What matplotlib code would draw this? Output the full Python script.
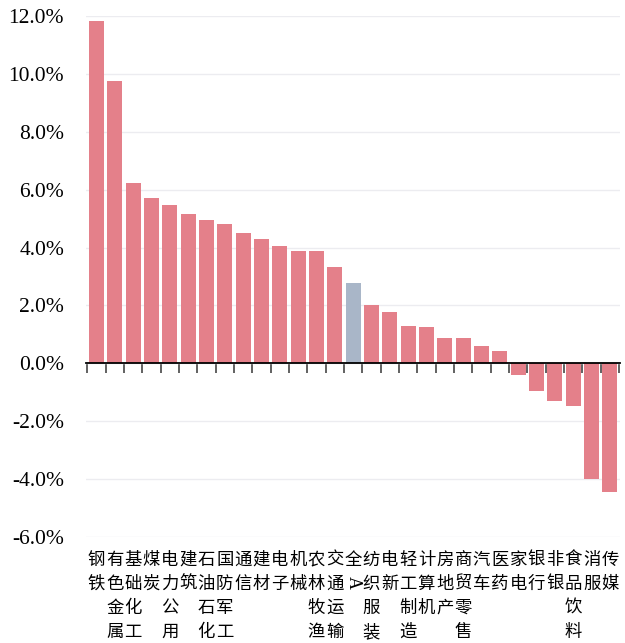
import numpy as np
import matplotlib.pyplot as plt
import matplotlib.transforms as mtransforms

plt.rcParams['font.family'] = ['Noto Sans CJK SC', 'DejaVu Sans']

industries = ["钢铁", "有色金属", "基础化工", "煤炭", "电力公用", "建筑", "石油石化",
              "国防军工", "通信", "建材", "电子", "机械", "农林牧渔", "交通运输", "全A",
              "纺织服装", "电新", "轻工制造", "计算机", "房地产", "商贸零售", "汽车",
              "医药", "家电", "银行", "非银", "食品饮料", "消服", "传媒"]
returns = [11.82, 9.76, 6.22, 5.71, 5.46, 5.15, 4.95, 4.83, 4.52, 4.28, 4.04, 3.87,
           3.87, 3.32, 2.76, 2.03, 1.76, 1.28, 1.27, 0.86, 0.86, 0.59, 0.41, -0.42,
           -0.97, -1.29, -1.46, -4.01, -4.44]
highlight = "全A"
yticks = [-6, -4, -2, 0, 2, 4, 6, 8, 10, 12]

red = "#E4808A"
blue = "#A9B6C8"

fig = plt.figure(figsize=(6.25, 6.43), dpi=100)
ax = fig.add_axes([0.138, 0.165, 0.854, 0.81])

x = np.arange(len(industries))
colors = [blue if n == highlight else red for n in industries]
ax.bar(x, returns, width=0.82, color=colors, zorder=3)

ax.set_xlim(-0.55, len(industries) - 0.45)
ax.set_ylim(-6, 12)
ax.set_yticks(yticks)
ax.set_yticklabels([f"{v:.1f}%" for v in yticks], family="Liberation Serif", fontsize=15.5)
ax.tick_params(axis='y', length=0, pad=16)
ax.grid(axis='y', color="#ECECF0", lw=1, zorder=0)

for s in ['top', 'right', 'left']:
    ax.spines[s].set_visible(False)
ax.spines['bottom'].set_position(('data', 0))
ax.spines['bottom'].set_color("black")
ax.spines['bottom'].set_linewidth(1.3)
ax.spines['bottom'].set_zorder(4)

ax.set_xticks(x)
ax.set_xticklabels([])
ax.tick_params(axis='x', which='major', length=0)
ax.set_xticks(np.arange(len(industries) + 1) - 0.5, minor=True)
ax.tick_params(axis='x', which='minor', length=7, width=1.3, color="#555555", direction='out')

# vertical (stacked) category labels under the plot
trans = mtransforms.blended_transform_factory(ax.transData, ax.transAxes)
for i, name in enumerate(industries):
    if name == highlight:
        ax.annotate(name[0], xy=(i, 0), xycoords=trans, xytext=(0, -10),
                    textcoords='offset points', ha='center', va='top',
                    fontsize=12.5, linespacing=1.43)
        ax.annotate(name[1], xy=(i, 0), xycoords=trans, xytext=(0.5, -32.5),
                    textcoords='offset points', ha='center', va='center',
                    fontsize=13, rotation=-90, family="Liberation Serif")
        continue
    ax.annotate("\n".join(name), xy=(i, 0), xycoords=trans, xytext=(0, -10),
                textcoords='offset points', ha='center', va='top',
                fontsize=12.5, linespacing=1.43)

fig.savefig("out.png", dpi=100, facecolor="white")
